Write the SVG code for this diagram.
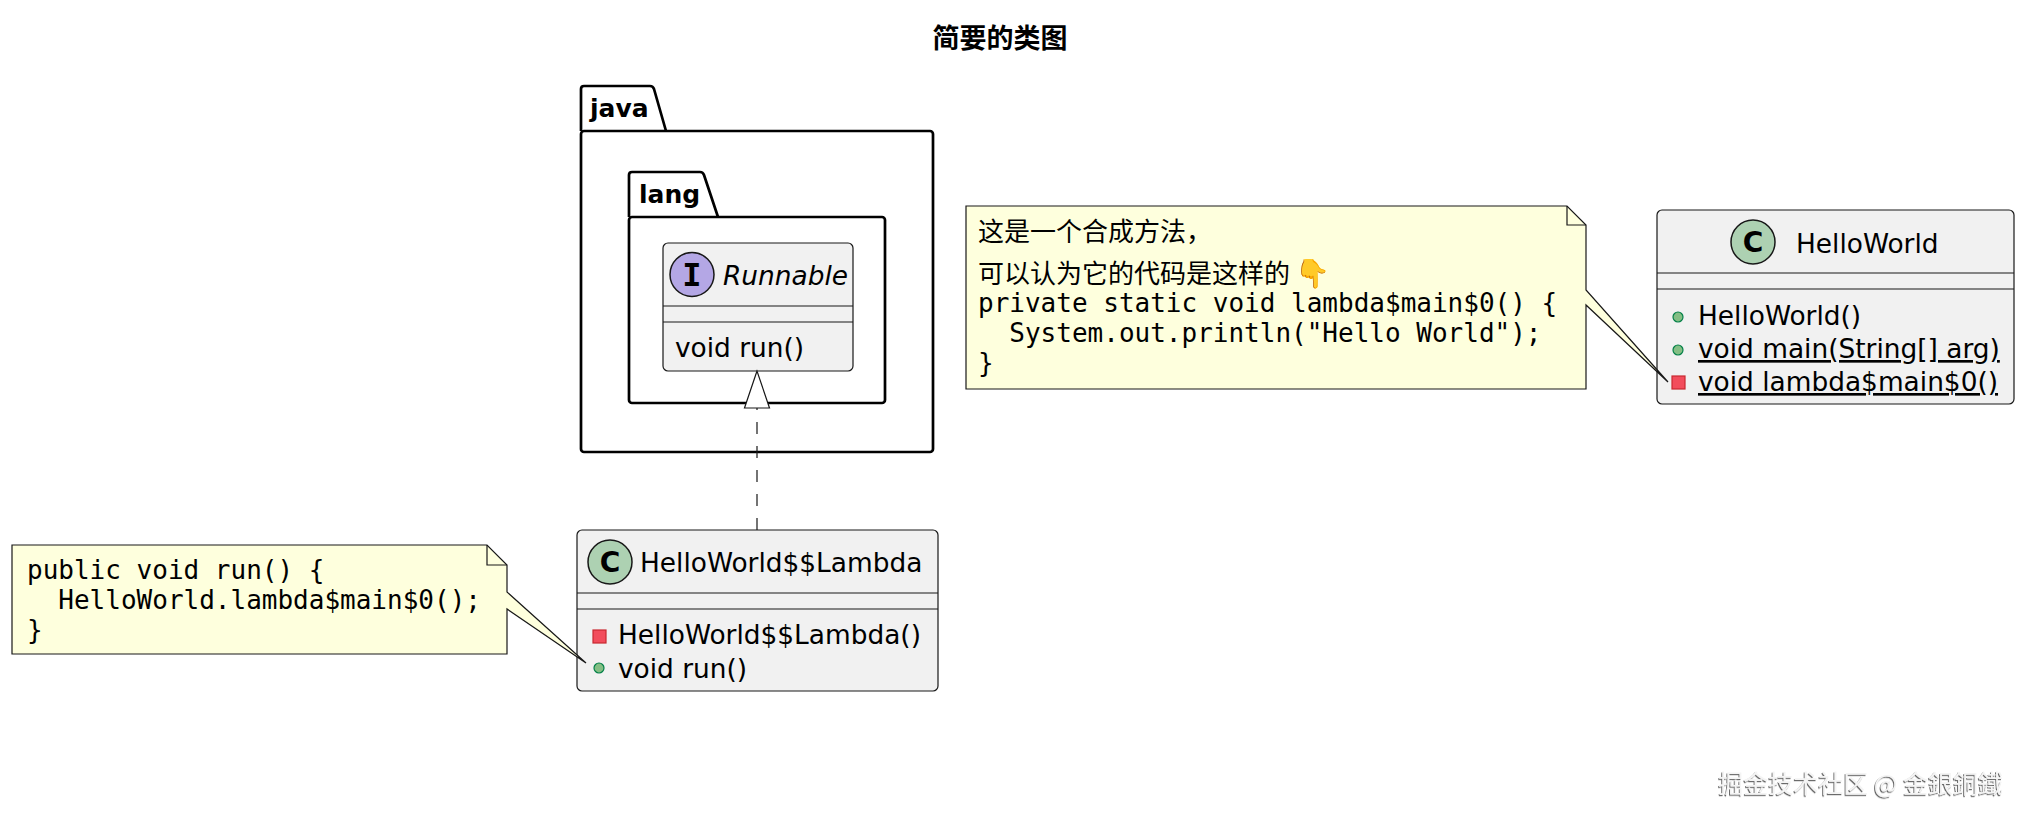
<svg xmlns="http://www.w3.org/2000/svg" width="2026" height="820" viewBox="0 0 2026 820">
<style>
.pkg{fill:#FFFFFF;stroke:#000000;stroke-width:2.7;stroke-linejoin:round}
.pkgname{font-family:"DejaVu Sans",sans-serif;font-weight:bold;font-size:25px;fill:#000}
.cls{fill:#F1F1F1;stroke:#181818;stroke-width:1.2}
.sep{stroke:#181818;stroke-width:1.2}
.ct{font-family:"DejaVu Sans",sans-serif;font-size:26.4px;fill:#000}
.ci{fill:#ADD1B2;stroke:#181818;stroke-width:1.5}
.ii{fill:#B4A7E5;stroke:#181818;stroke-width:1.5}
.pub{fill:#84BE84;stroke:#038048;stroke-width:1.2}
.prv{fill:#F24D5C;stroke:#C82930;stroke-width:1.2}
.note{fill:#FEFFDD;stroke:#181818;stroke-width:1.2;stroke-linejoin:miter}
.fold{fill:none;stroke:#181818;stroke-width:1.2}
.mono{font-family:"DejaVu Sans Mono",monospace;font-size:26px;fill:#000;white-space:pre}
.cjk{font-family:"Noto Sans CJK SC",sans-serif;font-size:26px;fill:#000}
.conn{fill:none;stroke:#181818;stroke-width:1.2}
</style>
<defs>
<filter id="emb" x="-5%" y="-20%" width="110%" height="140%">
<feDropShadow dx="-1" dy="1.2" stdDeviation="0.6" flood-color="#555555" flood-opacity="0.9"/>
</filter>
</defs>
<rect x="0" y="0" width="2026" height="820" fill="#FFFFFF"/>

<text x="1000" y="48" text-anchor="middle" font-family="'Noto Sans CJK SC',sans-serif" font-weight="bold" font-size="27">简要的类图</text>

<g id="pkg-java">
<path class="pkg" d="M581,131 L581,89 Q581,86 584,86 L650,86 Q653,86 654,89 L666,131"/>
<rect class="pkg" x="581" y="131" width="352" height="321" rx="3"/>
<text class="pkgname" x="590" y="117">java</text>
</g>

<g id="pkg-lang">
<path class="pkg" d="M629,217 L629,175 Q629,172 632,172 L700,172 Q703,172 704,175 L718,217"/>
<rect class="pkg" x="629" y="217" width="256" height="186" rx="3"/>
<text class="pkgname" x="639" y="203">lang</text>
</g>

<g id="Runnable">
<rect class="cls" x="663" y="243" width="190" height="128" rx="5"/>
<circle class="ii" cx="692" cy="274.5" r="22"/>
<text x="692" y="286" text-anchor="middle" font-family="'DejaVu Sans Mono',monospace" font-weight="bold" font-size="32">I</text>
<text class="ct" x="723" y="285" font-style="italic">Runnable</text>
<line class="sep" x1="663" y1="306" x2="853" y2="306"/>
<line class="sep" x1="663" y1="322" x2="853" y2="322"/>
<text class="ct" x="675" y="357">void run()</text>
</g>

<g id="HelloWorldLambda">
<rect class="cls" x="577" y="530" width="361" height="161" rx="5"/>
<circle class="ci" cx="610" cy="562" r="22"/>
<text x="610" y="572" text-anchor="middle" font-family="'DejaVu Sans',sans-serif" font-weight="bold" font-size="28">C</text>
<text class="ct" x="640" y="572">HelloWorld$$Lambda</text>
<line class="sep" x1="577" y1="593" x2="938" y2="593"/>
<line class="sep" x1="577" y1="609" x2="938" y2="609"/>
<rect class="prv" x="593" y="630" width="13" height="13"/>
<text class="ct" x="618" y="644">HelloWorld$$Lambda()</text>
<circle class="pub" cx="599" cy="668" r="5"/>
<text class="ct" x="618" y="678">void run()</text>
</g>

<g id="HelloWorld">
<rect class="cls" x="1657" y="210" width="357" height="194" rx="5"/>
<circle class="ci" cx="1753" cy="242" r="22"/>
<text x="1753" y="252" text-anchor="middle" font-family="'DejaVu Sans',sans-serif" font-weight="bold" font-size="28">C</text>
<text class="ct" x="1796" y="253">HelloWorld</text>
<line class="sep" x1="1657" y1="273" x2="2014" y2="273"/>
<line class="sep" x1="1657" y1="289" x2="2014" y2="289"/>
<circle class="pub" cx="1678" cy="317" r="5"/>
<text class="ct" x="1698" y="325">HelloWorld()</text>
<circle class="pub" cx="1678" cy="350" r="5"/>
<text class="ct" x="1698" y="358" text-decoration="underline">void main(String[] arg)</text>
<rect class="prv" x="1672" y="376" width="13" height="13"/>
<text class="ct" x="1698" y="391" text-decoration="underline">void lambda$main$0()</text>
</g>

<g id="note-lambda">
<path class="note" d="M12,545 L487,545 L507,565 L507,592 L586,663 L507,609 L507,654 L12,654 Z"/>
<path class="fold" d="M487,545 L487,565 L507,565"/>
<text class="mono" x="27" y="579">public void run() {</text>
<text class="mono" x="27" y="609">  HelloWorld.lambda$main$0();</text>
<text class="mono" x="27" y="639">}</text>
</g>

<g id="note-helloworld">
<path class="note" d="M966,206 L1567,206 L1586,225 L1586,290 L1668,382 L1586,305 L1586,389 L966,389 Z"/>
<path class="fold" d="M1567,206 L1567,225 L1586,225"/>
<text class="cjk" x="978" y="241">这是一个合成方法，</text>
<text class="cjk" x="978" y="283">可以认为它的代码是这样的 <tspan font-family="'Noto Color Emoji','Noto Emoji',sans-serif" font-size="28">👇</tspan></text>
<text class="mono" x="978" y="312">private static void lambda$main$0() {</text>
<text class="mono" x="978" y="342">  System.out.println("Hello World");</text>
<text class="mono" x="978" y="372">}</text>
</g>

<g id="connectors">
<line class="conn" x1="757" y1="530" x2="757" y2="408" stroke-dasharray="12,12"/>
<polygon points="757,371 744.5,408 769.5,408" fill="#FFFFFF" stroke="#181818" stroke-width="1.2"/>
</g>

<text x="2003" y="793" text-anchor="end" font-family="'Noto Sans CJK SC',sans-serif" font-size="25" fill="#F4F4F4" filter="url(#emb)">掘金技术社区 @ 金銀銅鐵</text>
</svg>
